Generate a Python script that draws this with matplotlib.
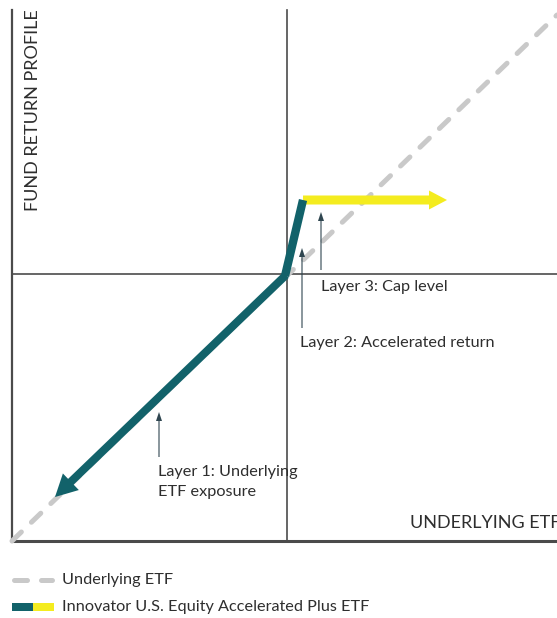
import matplotlib.pyplot as plt

plt.rcParams["font.family"] = ["Lato", "DejaVu Sans"]

# chart units: 1 unit ~ 1 px, origin at the crossing of the axes
underlying_x = [-275, 270]
underlying_y = [-267, 259]

# fund payoff: downside leg, accelerated leg, cap
fund_x = [-232, -2, 16, 160]
fund_y = [-223, -2, 74, 74]

layer_labels = ["Layer 1: Underlying\nETF exposure", "Layer 2: Accelerated return", "Layer 3: Cap level"]
layer_arrow_x = [-128, 15, 34]
layer_arrow_tail = [-183, -54, 4]
layer_arrow_tip = [-138, 26, 62]
layer_text_xy = [(-129, -208), (13, -69), (34, -13)]

legend_labels = ["Underlying ETF", "Innovator U.S. Equity Accelerated Plus ETF"]

teal = "#12626a"
yellow = "#f4ec1f"
grey_dash = "#c9c9c9"
axis_col = "#4b4b4b"
txt_col = "#2e2e2e"

W, H = 557, 618
fig = plt.figure(figsize=(W / 100, H / 100), dpi=100)
ax = fig.add_axes([12 / W, (H - 541) / H, 545 / W, 531 / H])
ax.set_xlim(-275, 270)
ax.set_ylim(-267, 264)
ax.axis("off")

# frame lines
ax.plot([-275, -275], [-267, 264], color=axis_col, lw=1.6, clip_on=False)
ax.plot([-275, 270], [-267, -267], color=axis_col, lw=2.2, clip_on=False)
ax.plot([0, 0], [-267, 264], color=axis_col, lw=1.2, clip_on=False)
ax.plot([-275, 270], [0, 0], color=axis_col, lw=1.2, clip_on=False)

# underlying ETF (dashed)
ax.plot(underlying_x, underlying_y, color=grey_dash, lw=3.6, dashes=(2.6, 2.8),
        dash_capstyle="round", clip_on=False, zorder=2)

# fund return profile
ax.plot(fund_x[1:3], fund_y[1:3], color=teal, lw=6, solid_capstyle="butt", zorder=4)
ax.arrow(fund_x[1] + 1, fund_y[1] + 1, fund_x[0] - fund_x[1] - 1, fund_y[0] - fund_y[1] - 1,
         width=8, head_width=23, head_length=22, length_includes_head=True,
         color=teal, lw=0, zorder=4)
ax.arrow(fund_x[2], fund_y[2], fund_x[3] - fund_x[2], fund_y[3] - fund_y[2],
         width=9, head_width=19, head_length=18, length_includes_head=True,
         color=yellow, lw=0, zorder=3)

# layer callouts
for lab, x, t0, t1, (tx, ty) in zip(layer_labels, layer_arrow_x, layer_arrow_tail,
                                    layer_arrow_tip, layer_text_xy):
    ax.arrow(x, t0, 0, t1 - t0, width=1.1, head_width=6, head_length=9,
             length_includes_head=True, color="#2f4650", lw=0, zorder=5)
    ax.text(tx, ty, lab, ha="left", va="center", fontsize=11.7, color=txt_col,
            linespacing=1.5)

ax.text(123, -249, "UNDERLYING ETF", ha="left", va="center", fontsize=13,
        color=txt_col, clip_on=False)
ax.text(-254, 164, "FUND RETURN PROFILE", ha="center", va="center", rotation=90,
        fontsize=13, color=txt_col, clip_on=False)

# legend
lg = fig.add_axes([0, 0, 1, 58 / H])
lg.set_xlim(0, W)
lg.set_ylim(618, 560)
lg.axis("off")
lg.plot([14, 52], [580, 580], color=grey_dash, lw=3.6, dashes=(2.6, 2.8),
        dash_capstyle="round")
lg.add_patch(plt.Rectangle((12, 603), 21, 8, color=teal, lw=0))
lg.add_patch(plt.Rectangle((33, 603), 21, 8, color=yellow, lw=0))
lg.text(62, 580, legend_labels[0], ha="left", va="center", fontsize=11.7, color=txt_col)
lg.text(62, 607, legend_labels[1], ha="left", va="center", fontsize=11.7, color=txt_col)

fig.savefig("out.png", dpi=100)
